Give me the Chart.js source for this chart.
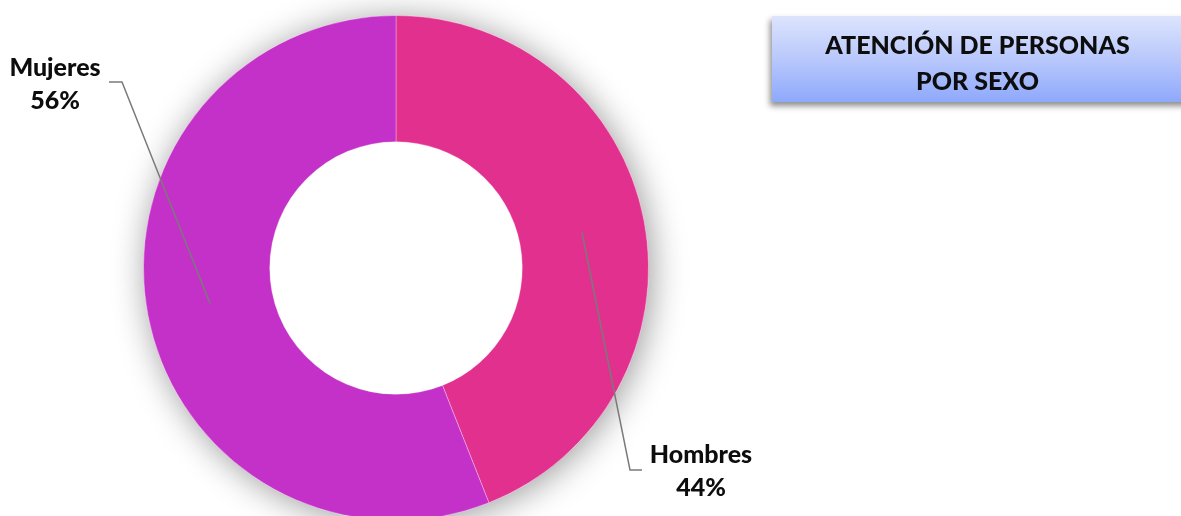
<!DOCTYPE html>
<html>
<head>
<meta charset="utf-8">
<script src="https://cdn.jsdelivr.net/npm/chart.js@4/dist/chart.umd.min.js"></script>
<style>
  html, body { margin: 0; padding: 0; background: #fff; overflow: hidden; }
  #wrap { position: absolute; left: 0; top: 0; width: 1181px; height: 536px; }
  .title-box {
    position: absolute; left: 772px; top: 16px; width: 420px; height: 86px;
    background: linear-gradient(to bottom, #dde4fd 0%, #b9c8fc 50%, #8ea8fb 100%);
    box-shadow: -2px 4px 6px rgba(0, 0, 0, 0.45);
  }
  .title-box span {
    position: absolute; left: 0; width: 411px; top: 10px;
    text-align: center; font-family: Lato, sans-serif; font-weight: 900;
    font-size: 25px; line-height: 36px; color: #0d0d0d;
  }
</style>
</head>
<body>
<div id="wrap"><canvas id="chart" width="1181" height="536"></canvas></div>
<div class="title-box"><span>ATENCIÓN DE PERSONAS<br>POR SEXO</span></div>

<script>
'use strict';

const categories = ["Hombres", "Mujeres"];
const percentages = [44, 56];
const colors = ["#e2308f", "#c431c8"];

/**
 * label placement (leader line elbow, end and text centre)
 */
const labelPos = [
  { elbow: [630, 470], end: [642, 470], text: [701, 455] },
  { elbow: [122, 82], end: [109, 82], text: [55, 68] }
];

const donutShadow = {
  id: "donutShadow",
  beforeDatasetsDraw(chart) {
    const arc = chart.getDatasetMeta(0).data[0];
    if (!arc) return;
    const ctx = chart.ctx;
    ctx.save();
    ctx.shadowColor = "rgba(0, 0, 0, 0.4)";
    ctx.shadowBlur = 34;
    ctx.shadowOffsetX = 3;
    ctx.shadowOffsetY = 3;
    ctx.fillStyle = "#fff";
    ctx.beginPath();
    ctx.arc(arc.x, arc.y, arc.outerRadius, 0, Math.PI * 2);
    ctx.fill();
    ctx.restore();
  }
};

const calloutLabels = {
  id: "calloutLabels",
  afterDatasetsDraw(chart) {
    const ctx = chart.ctx;
    const meta = chart.getDatasetMeta(0);
    meta.data.forEach(function (arc, i) {
      const p = arc.getCenterPoint();
      const pos = labelPos[i];
      ctx.save();
      ctx.strokeStyle = "#7a7a7a";
      ctx.lineWidth = 1.5;
      ctx.beginPath();
      ctx.moveTo(p.x, p.y);
      ctx.lineTo(pos.elbow[0], pos.elbow[1]);
      ctx.lineTo(pos.end[0], pos.end[1]);
      ctx.stroke();

      ctx.fillStyle = "#0d0d0d";
      ctx.font = "900 25px Lato, sans-serif";
      ctx.textAlign = "center";
      ctx.textBaseline = "middle";
      ctx.fillText(categories[i], pos.text[0], pos.text[1]);
      ctx.fillText(percentages[i] + "%", pos.text[0], pos.text[1] + 33);
      ctx.restore();
    });
  }
};

new Chart(document.getElementById("chart"), {
  type: "doughnut",
  data: {
    labels: categories,
    datasets: [{
      data: percentages,
      backgroundColor: colors,
      borderColor: "rgba(255, 255, 255, 0.3)",
      borderWidth: 1,
      hoverOffset: 0,
      offset: 0
    }]
  },
  options: {
    responsive: false,
    animation: false,
    events: [],
    cutout: "50%",
    layout: { padding: { left: 143, top: 15, right: 532, bottom: 15 } },
    plugins: {
      legend: { display: false },
      tooltip: { enabled: false }
    }
  },
  plugins: [donutShadow, calloutLabels]
});
</script>
</body>
</html>
